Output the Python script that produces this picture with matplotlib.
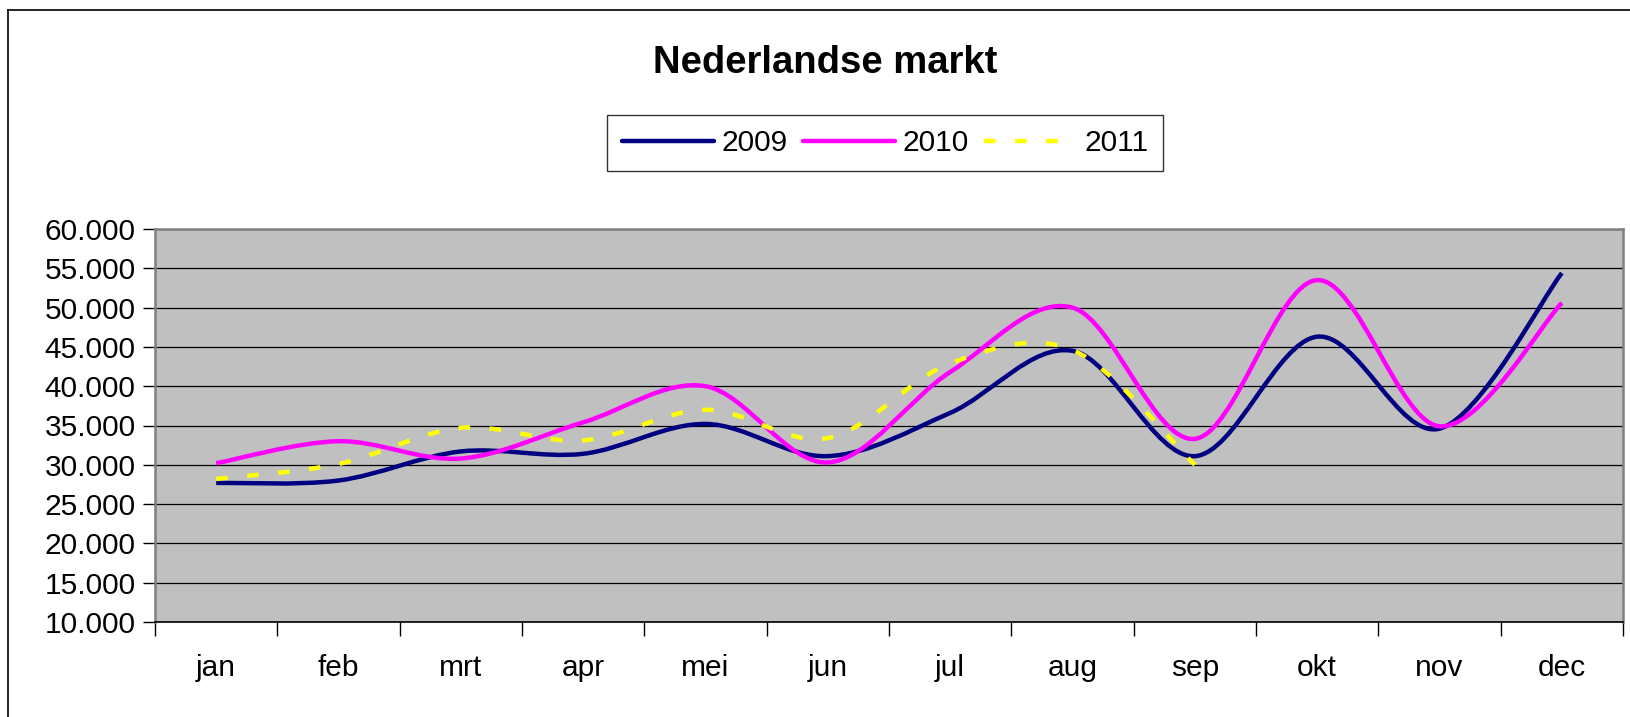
import matplotlib
matplotlib.use("Agg")
import matplotlib.pyplot as plt
from matplotlib.path import Path
from matplotlib.patches import PathPatch
from matplotlib.lines import Line2D
from matplotlib.ticker import FixedLocator, FuncFormatter, NullFormatter

plt.rcParams["font.family"] = ["Liberation Sans", "DejaVu Sans"]

# maanden (categorie-as)
maanden = ["jan", "feb", "mrt", "apr", "mei", "jun",
           "jul", "aug", "sep", "okt", "nov", "dec"]

waarden_2009 = [27700, 28000, 31700, 31400, 35200, 31100,
                36600, 44500, 31100, 46300, 34600, 54400]
waarden_2010 = [30200, 33000, 30800, 35400, 40000, 30300,
                41800, 50000, 33300, 53500, 34900, 50600]
waarden_2011 = [28200, 30100, 34700, 33100, 37000, 33400,
                42900, 44600, 30000]

reeksen = [
    ("2009", waarden_2009, "#000080", "-"),
    ("2010", waarden_2010, "#FF00FF", "-"),
    ("2011", waarden_2011, "#FFFF00", "--"),
]


def smooth_path(xs, ys):
    """Excel-achtige vloeiende lijn: Catmull-Rom omgezet naar Bezier-segmenten."""
    pts = list(zip(xs, ys))
    verts = [pts[0]]
    codes = [Path.MOVETO]
    n = len(pts)
    for i in range(n - 1):
        p0 = pts[i - 1] if i > 0 else pts[i]
        p1 = pts[i]
        p2 = pts[i + 1]
        p3 = pts[i + 2] if i + 2 < n else pts[i + 1]
        c1 = (p1[0] + (p2[0] - p0[0]) / 6, p1[1] + (p2[1] - p0[1]) / 6)
        c2 = (p2[0] - (p3[0] - p1[0]) / 6, p2[1] - (p3[1] - p1[1]) / 6)
        verts += [c1, c2, p2]
        codes += [Path.CURVE4] * 3
    return Path(verts, codes)


fig = plt.figure(figsize=(16.3, 7.17), dpi=100)
ax = fig.add_axes([155 / 1630, 1 - 622 / 717, 1468 / 1630, 393 / 717])
ax.set_facecolor("#C0C0C0")

ax.set_xlim(0, 12)
ax.set_ylim(10000, 60000)

# horizontale rasterlijnen
ax.yaxis.set_major_locator(FixedLocator(range(10000, 60001, 5000)))
ax.yaxis.set_major_formatter(FuncFormatter(lambda v, p: f"{int(v):,}".replace(",", ".")))
ax.grid(axis="y", color="black", linewidth=0.9)
ax.set_axisbelow(True)

# tickstreepjes op de grenzen, labels in het midden
ax.xaxis.set_major_locator(FixedLocator(range(0, 13)))
ax.xaxis.set_major_formatter(NullFormatter())
ax.xaxis.set_minor_locator(FixedLocator([i + 0.5 for i in range(12)]))
ax.set_xticklabels(maanden, minor=True)
ax.tick_params(axis="x", which="major", length=10, width=1, direction="out")
ax.tick_params(axis="x", which="minor", length=0, pad=23, labelsize=21.5)
ax.tick_params(axis="y", length=9, width=1, direction="out", pad=5, labelsize=21.5)

for side in ["left", "top", "right"]:
    ax.spines[side].set_color("#808080")
    ax.spines[side].set_linewidth(1.8)
ax.spines["bottom"].set_color("black")
ax.spines["bottom"].set_linewidth(1.2)

handles = []
for naam, waarden, kleur, stijl in reeksen:
    xs = [i + 0.5 for i in range(len(waarden))]
    patch = PathPatch(smooth_path(xs, waarden), facecolor="none", edgecolor=kleur,
                      linewidth=3.2, capstyle="butt", joinstyle="round", zorder=3)
    if stijl == "--":
        patch.set_linestyle((0, (2.6, 4.4)))
    ax.add_patch(patch)
    h = Line2D([], [], color=kleur, linewidth=3.2,
               linestyle=(0, (2.6, 4.4)) if stijl == "--" else "-",
               solid_capstyle="round", dash_capstyle="butt")
    handles.append(h)

fig.text(825 / 1630, 1 - 63 / 717, "Nederlandse markt", ha="center", va="center",
         fontsize=27.5, fontweight="bold")

leg = fig.legend(handles, [r[0] for r in reeksen], loc="center",
                 bbox_to_anchor=(885 / 1630, 1 - 143 / 717), ncol=3,
                 fontsize=21.5, frameon=True, fancybox=False, edgecolor="black",
                 handlelength=3.1, handletextpad=0.25, columnspacing=0.5,
                 borderpad=0.48, borderaxespad=0)
leg.get_frame().set_linewidth(1.0)

# rand van het grafiekgebied (links en boven zichtbaar)
fig.add_artist(Line2D([8 / 1630, 8 / 1630], [0, 1 - 10 / 717], color="black", linewidth=1.2))
fig.add_artist(Line2D([8 / 1630, 1], [1 - 10 / 717, 1 - 10 / 717], color="black", linewidth=1.2))

fig.savefig("out.png", dpi=100, facecolor="white")
